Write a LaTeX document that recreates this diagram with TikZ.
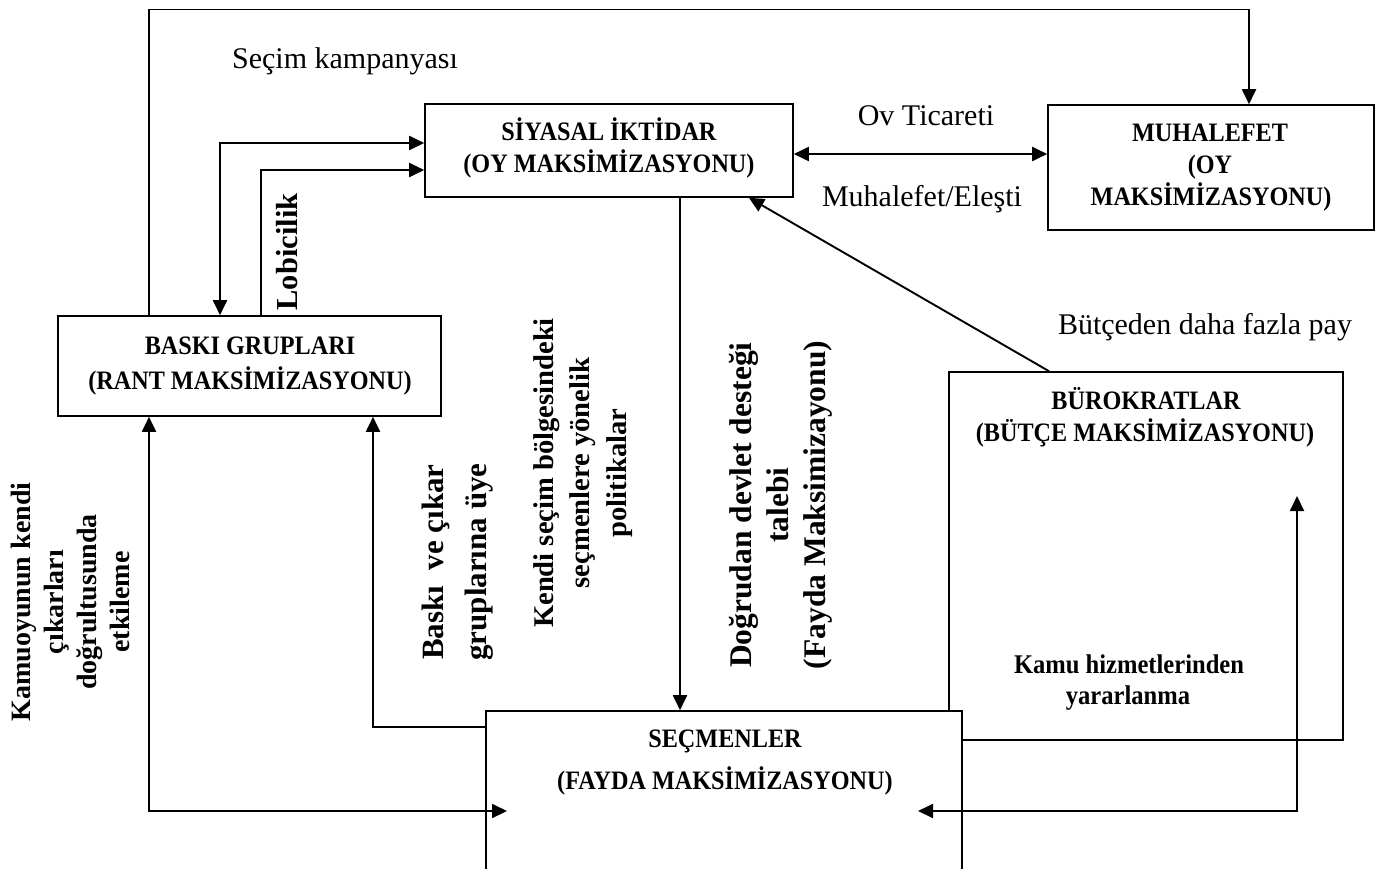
\documentclass[tikz,border=0pt]{standalone}
\usepackage{fontspec}
\setmainfont{Liberation Serif}
\newfontfamily\narrowserif[FakeStretch=0.91]{Liberation Serif}
\usetikzlibrary{arrows.meta}
\newcommand{\fsz}[1]{\fontsize{#1}{#1}\selectfont}
\tikzset{
  conn/.style={line width=1.9pt},
  tip/.tip={Triangle[length=15pt,width=14pt]},
  arr/.style={conn,-tip},
  dbl/.style={conn,tip-tip},
  box/.style={draw,line width=1.6pt,inner sep=0pt},
  btxt/.style={inner sep=0pt,anchor=base,font=\narrowserif\fsz{26.6}\bfseries},
  rtxt/.style={inner sep=0pt,anchor=base,font=\fsz{30}},
  vlab/.style={inner sep=0pt,align=center,rotate=90},
}
\begin{document}
\begin{tikzpicture}[x=1pt,y=-1pt]
\useasboundingbox (0,0) rectangle (1379,868);
\fill[white] (0,0) rectangle (1379,868);

% boxes
\node[box,minimum width=368pt,minimum height=93pt] (siy) at (609,150.5) {};
\node[box,minimum width=326pt,minimum height=125pt] (muh) at (1211,167.5) {};
\node[box,minimum width=383pt,minimum height=100pt] (bas) at (249.5,366) {};
\node[box,minimum width=394pt,minimum height=368pt] (bur) at (1146,556) {};
\node[box,minimum width=476pt,minimum height=190pt,fill=white] (sec) at (724,806) {};

% box texts
\node[btxt] (siy1) at (609,140) {SİYASAL İKTİDAR};
\node[btxt] (siy2) at (609,172) {(OY MAKSİMİZASYONU)};
\node[btxt] (muh1) at (1210,141) {MUHALEFET};
\node[btxt] (muh2) at (1210,173) {(OY};
\node[btxt] (muh3) at (1211,205) {MAKSİMİZASYONU)};
\node[btxt] (bas1) at (250,354) {BASKI GRUPLARI};
\node[btxt] (bas2) at (250,389) {(RANT MAKSİMİZASYONU)};
\node[btxt] (bur1) at (1146,409) {BÜROKRATLAR};
\node[btxt] (bur2) at (1145,441) {(BÜTÇE MAKSİMİZASYONU)};
\node[btxt,font=\narrowserif\fsz{27}\bfseries] (kh1) at (1129,673) {Kamu hizmetlerinden};
\node[btxt,font=\narrowserif\fsz{27}\bfseries] (kh2) at (1128,704) {yararlanma};
\node[btxt] (sec1) at (725,747) {SEÇMENLER};
\node[btxt] (sec2) at (725,789) {(FAYDA MAKSİMİZASYONU)};

% plain labels
\node[rtxt] (l1) at (345,68) {Seçim kampanyası};
\node[rtxt] (l2) at (926,125) {Ov Ticareti};
\node[rtxt] (l3) at (922,206) {Muhalefet/Eleşti};
\node[rtxt] (l4) at (1205,334) {Bütçeden daha fazla pay};

% vertical labels
\node[vlab,font=\fsz{30.5}\bfseries] (lob) at (287,252) {Lobicilik};
\node[vlab,font=\fontsize{28}{33}\selectfont\bfseries] (kam) at (70,602)
  {Kamuoyunun kendi\\çıkarları\\doğrultusunda\\etkileme};
\node[vlab,font=\fontsize{31}{43}\selectfont\bfseries] (bvc) at (458,562)
  {Baskı\ \ ve çıkar\\gruplarına üye};
\node[vlab,font=\fontsize{28.6}{36.5}\selectfont\bfseries] (kse) at (583,473)
  {Kendi seçim bölgesindeki\\seçmenlere yönelik\\politikalar};
\node[vlab,font=\fontsize{31.5}{37}\selectfont\bfseries] (dds) at (781,505)
  {Doğrudan devlet desteği\\talebi\\(Fayda Maksimizayonu)};

% free ends inside boxes
\coordinate (secA) at (507,811);
\coordinate (secB) at (918,811);
\coordinate (burA) at (1297,496);

% connectors
\draw[arr] (149,0 |- bas.north) -- (149,9.5) -- (1249,9.5) -- (1249,0 |- muh.north);
\draw[dbl] (220,0 |- bas.north) -- (220,143) -- (siy.west |- 0,143);
\draw[arr] (261,0 |- bas.north) -- (261,170) -- (siy.west |- 0,170);
\draw[dbl] (siy.east |- 0,154) -- (muh.west |- 0,154);
\draw[arr] (680,0 |- siy.south) -- (680,0 |- sec.north);
\draw[arr] (1049,0 |- bur.north) -- (749,0 |- siy.south);
\draw[dbl] (149,0 |- bas.south) -- (149,811) -- (secA);
\draw[arr] (sec.west |- 0,727) -- (373,727) -- (373,0 |- bas.south);
\draw[dbl] (secB) -- (1297,811) -- (burA);
\end{tikzpicture}
\end{document}
